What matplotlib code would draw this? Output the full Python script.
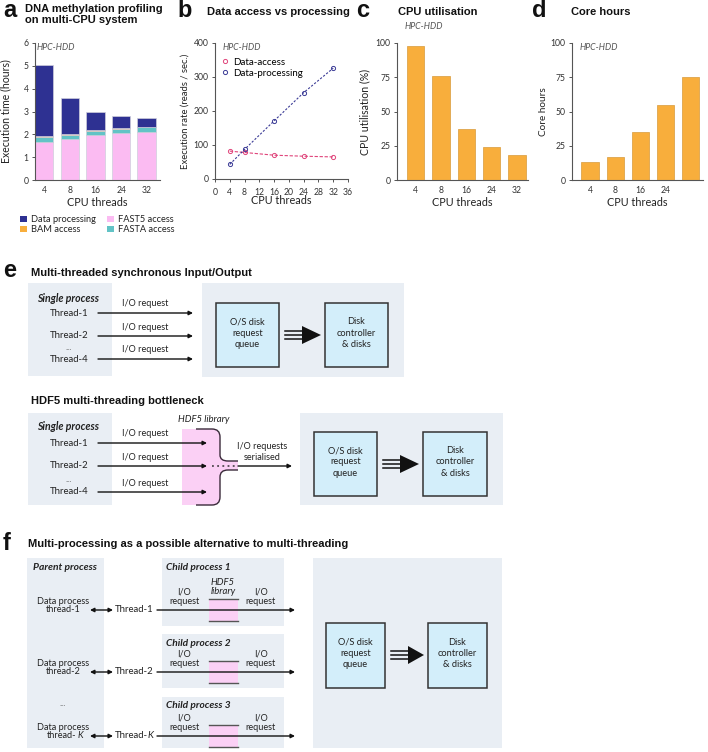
import numpy as np
import matplotlib
matplotlib.use('Agg')
import matplotlib.pyplot as plt
from matplotlib.patches import Rectangle, Polygon, PathPatch
from matplotlib.path import Path

# ---------------- data ----------------
threads = [4, 8, 16, 24, 32]
thread_labels = ['4', '8', '16', '24', '32']
series_names = ['Data processing', 'BAM access', 'FAST5 access', 'FASTA access']
fast5_access = [1.68, 1.78, 1.97, 2.07, 2.12]
fasta_access = [0.20, 0.19, 0.18, 0.17, 0.19]
bam_access = [0.03, 0.03, 0.03, 0.03, 0.03]
data_processing = [3.14, 1.60, 0.82, 0.55, 0.39]

rate_threads = [4, 8, 16, 24, 32]
data_access_rate = [82, 78, 70, 67, 65]
data_processing_rate = [43, 87, 171, 254, 326]

cpu_utilisation = [98, 76, 37, 24, 18]
core_hours = [13, 17, 35, 55, 75]
core_tick_labels = ['4', '8', '16', '24', '']

# ---------------- style ----------------
plt.rcParams['font.family'] = ['Lato', 'DejaVu Sans']
BOLD = ['Liberation Sans', 'DejaVu Sans']
NAVY = '#2e3192'
PINK = '#fbbbf2'
TEAL = '#62c3c6'
ORANGE = '#f8ae3c'
GRAY = '#e9eef4'
LPINK = '#fbd0f5'
BOXC = '#d3eefa'
W, H = 708, 752

fig = plt.figure(figsize=(7.08, 7.52), dpi=100)
ax0 = fig.add_axes([0, 0, 1, 1])
ax0.set_xlim(0, W)
ax0.set_ylim(H, 0)
ax0.axis('off')


def axpos(x0, y0, x1, y1):
    return [x0 / W, 1 - y1 / H, (x1 - x0) / W, (y1 - y0) / H]


def style(ax, xticklen=0):
    for s in ['top', 'right']:
        ax.spines[s].set_visible(False)
    for s in ['left', 'bottom']:
        ax.spines[s].set_color('#555555')
        ax.spines[s].set_linewidth(0.8)
    ax.tick_params(axis='both', length=2.5, width=0.7, colors='#555555',
                   labelsize=6.2, labelcolor='#333333', pad=2)
    ax.tick_params(axis='x', length=xticklen, pad=4)
    ax.set_facecolor('none')


def labels(ax, ylab, ysize, yx, h):
    ax.set_ylabel(ylab, fontsize=ysize, color='#222222')
    ax.yaxis.set_label_coords(yx, 0.5)
    ax.set_xlabel('CPU threads', fontsize=7.8, color='#222222')
    ax.xaxis.set_label_coords(0.5, -22 / h)
    ax.xaxis.label.set_va('center')


def txt(x, y, s, size=6.5, ha='center', va='center', **kw):
    ax0.text(x, y, s, fontsize=size, ha=ha, va=va, color=kw.pop('color', '#222222'), **kw)


def rect(x0, y0, x1, y1, fc, ec='none', lw=0, z=1):
    ax0.add_patch(Rectangle((x0, y0), x1 - x0, y1 - y0, facecolor=fc, edgecolor=ec, lw=lw, zorder=z))


def arrow(x0, x1, y, style='-|>'):
    ax0.annotate('', xy=(x1, y), xytext=(x0, y),
                 arrowprops=dict(arrowstyle=style, lw=1.0, color='#111111',
                                 mutation_scale=6, shrinkA=0, shrinkB=0), zorder=4)


def box(x0, y0, x1, y1, s):
    rect(x0, y0, x1, y1, BOXC, ec='#333333', lw=1.1, z=3)
    txt((x0 + x1) / 2, (y0 + y1) / 2 - 2, s, size=6.7, linespacing=1.35, zorder=5)


def bigarrow(x0, x1, x2, y):
    for dy in (-4, 0, 4):
        ax0.plot([x0, x1 + 2], [y + dy, y + dy], color='#111111', lw=1.1, zorder=4)
    ax0.add_patch(Polygon([(x1, y - 9), (x1, y + 9), (x2, y)], closed=True,
                          facecolor='#111111', edgecolor='none', zorder=4))


# ---------------- panel titles ----------------
for lx, ly, letter in [(3, 17, 'a'), (177, 17, 'b'), (356, 17, 'c'), (532, 17, 'd'),
                       (3, 277, 'e'), (3, 550, 'f')]:
    ax0.text(lx, ly, letter, fontsize=17, fontweight='bold', family=BOLD,
             ha='left', va='baseline', color='#111111')
TITLE_KW = dict(fontsize=8, fontweight='bold', family=BOLD, ha='left', va='center', color='#111111')
ax0.text(25, 9, 'DNA methylation profiling', **TITLE_KW)
ax0.text(25, 20, 'on multi-CPU system', **TITLE_KW)
ax0.text(207, 12, 'Data access vs processing', **TITLE_KW)
ax0.text(398, 12, 'CPU utilisation', **TITLE_KW)
ax0.text(571, 12, 'Core hours', **TITLE_KW)

HPC_KW = dict(fontsize=6.3, style='italic', color='#555555', ha='left', va='center')

# ---------------- panel a ----------------
axa = fig.add_axes(axpos(35, 43, 160, 180))
style(axa)
x = np.arange(len(threads))
bottom = np.zeros(len(threads))
for vals, col in [(fast5_access, PINK), (fasta_access, TEAL), (bam_access, ORANGE), (data_processing, NAVY)]:
    axa.bar(x, vals, 0.72, bottom=bottom, color=col, edgecolor='#cfcfdc', lw=0.5)
    bottom = bottom + np.array(vals)
axa.set_xlim(-0.36, 4.52)
axa.set_ylim(0, 6)
axa.set_yticks(range(0, 7))
axa.set_xticks(x)
axa.set_xticklabels(thread_labels)
labels(axa, 'Execution time (hours)', 7.6, -0.19, 137)
axa.text(0.01, 0.965, 'HPC-HDD', transform=axa.transAxes, **HPC_KW)

# legend for panel a
leg_items = [(20, 219, NAVY, series_names[0]), (20, 229, ORANGE, series_names[1]),
             (107, 219, PINK, series_names[2]), (107, 229, TEAL, series_names[3])]
for lx, ly, col, name in leg_items:
    rect(lx, ly - 3, lx + 7, ly + 3, col)
    txt(lx + 11, ly, name, size=6.7, ha='left')

# ---------------- panel b ----------------
axb = fig.add_axes(axpos(215, 43, 348, 179))
style(axb, xticklen=2.5)
axb.plot(rate_threads, data_access_rate, ls=(0, (3, 1.5)), lw=0.8, color='#e0457b',
         marker='o', ms=3, mfc='none', mew=0.7, label='Data-access')
axb.plot(rate_threads, data_processing_rate, ls=(0, (2, 1.5)), lw=0.8, color='#3b3b96',
         marker='o', ms=3, mfc='none', mew=0.7, label='Data-processing')
axb.set_xlim(0, 36)
axb.set_xticks(range(0, 37, 4))
axb.set_ylim(0, 400)
axb.set_yticks(range(0, 401, 100))
labels(axb, 'Execution rate (reads / sec.)', 6.8, -0.19, 136)
axb.text(0.06, 0.965, 'HPC-HDD', transform=axb.transAxes, **HPC_KW)
lg = axb.legend(loc='upper left', bbox_to_anchor=(0.0, 0.935), frameon=False,
                fontsize=7, handlelength=0.9, handletextpad=0.4, labelspacing=0.2,
                borderaxespad=0.2)
for h in lg.get_lines():
    h.set_linestyle('none')

# ---------------- panel c ----------------
axc = fig.add_axes(axpos(397, 43, 528, 180))
style(axc)
axc.bar(x, cpu_utilisation, 0.69, color=ORANGE, edgecolor='#d89a3a', lw=0.5)
axc.set_xlim(-0.73, 4.43)
axc.set_ylim(0, 100)
axc.set_yticks(range(0, 101, 25))
axc.set_xticks(x)
axc.set_xticklabels(thread_labels)
labels(axc, 'CPU utilisation (%)', 7.6, -0.205, 137)
axc.text(0.06, 1.12, 'HPC-HDD', transform=axc.transAxes, **HPC_KW)

# ---------------- panel d ----------------
axd = fig.add_axes(axpos(572, 43, 703, 180))
style(axd)
axd.bar(x, core_hours, 0.69, color=ORANGE, edgecolor='#d89a3a', lw=0.5)
axd.set_xlim(-0.72, 4.5)
axd.set_ylim(0, 100)
axd.set_yticks(range(0, 101, 25))
axd.set_xticks(x)
axd.set_xticklabels(core_tick_labels)
labels(axd, 'Core hours', 7.2, -0.18, 137)
axd.text(0.06, 0.965, 'HPC-HDD', transform=axd.transAxes, **HPC_KW)

# ---------------- panel e (top) ----------------
ax0.text(31, 273, 'Multi-threaded synchronous Input/Output', **TITLE_KW)
rect(28, 283, 112, 376, GRAY)
rect(202, 283, 404, 377, GRAY)
txt(37, 298, 'Single process', size=7.6, ha='left', fontweight='bold', style='italic')
for yy, lab in zip([313, 336, 359], ['Thread-1', 'Thread-2', 'Thread-4']):
    txt(69, yy, lab, size=6.9)
    arrow(98, 193, yy)
    txt(145, yy - 9, 'I/O request', size=6.6)
txt(69, 348, '...', size=6.5, color='#555555')
box(216, 303, 279, 367, 'O/S disk\nrequest\nqueue')
box(325, 303, 388, 367, 'Disk\ncontroller\n& disks')
bigarrow(285, 302, 321, 335)

# ---------------- panel e (bottom) ----------------
ax0.text(31, 401, 'HDF5 multi-threading bottleneck', **TITLE_KW)
rect(28, 413, 112, 505, GRAY)
rect(300, 413, 503, 505, GRAY)
txt(37, 427, 'Single process', size=7.6, ha='left', fontweight='bold', style='italic')

# HDF5 library pink block with curly brace
verts = [(182, 429), (212, 429), (220, 429), (220, 437), (220, 455), (220, 461), (228, 461),
         (238, 461), (238, 470), (228, 470), (220, 470), (220, 477), (220, 497), (220, 505),
         (212, 505), (182, 505), (182, 429)]
codes = [Path.MOVETO, Path.LINETO, Path.CURVE3, Path.CURVE3, Path.LINETO, Path.CURVE3, Path.CURVE3,
         Path.LINETO, Path.LINETO, Path.LINETO, Path.CURVE3, Path.CURVE3, Path.LINETO, Path.CURVE3,
         Path.CURVE3, Path.LINETO, Path.CLOSEPOLY]
ax0.add_patch(PathPatch(Path(verts, codes), facecolor=LPINK, edgecolor='none', zorder=2))
brace_top = Path([(196, 429), (212, 429), (220, 429), (220, 437), (220, 455), (220, 461), (228, 461), (238, 461)],
                 [Path.MOVETO, Path.LINETO, Path.CURVE3, Path.CURVE3, Path.LINETO, Path.CURVE3, Path.CURVE3, Path.LINETO])
brace_bot = Path([(238, 470), (228, 470), (220, 470), (220, 477), (220, 497), (220, 505), (212, 505), (196, 505)],
                 [Path.MOVETO, Path.LINETO, Path.CURVE3, Path.CURVE3, Path.LINETO, Path.CURVE3, Path.CURVE3, Path.LINETO])
for p in (brace_top, brace_bot):
    ax0.add_patch(PathPatch(p, facecolor='none', edgecolor='#3a2a3a', lw=1.0, zorder=3))
txt(204, 420, 'HDF5 library', size=6.8, style='italic')

for yy, lab in zip([443, 466, 492], ['Thread-1', 'Thread-2', 'Thread-4']):
    txt(69, yy, lab, size=6.9)
    arrow(98, 207, yy)
for yy in [433, 457, 483]:
    txt(145, yy, 'I/O request', size=6.6)
txt(69, 479, '...', size=6.5, color='#555555')
ax0.plot([212, 236], [466, 466], ls=(0, (1.2, 2.2)), color='#333333', lw=1.1, zorder=4)
arrow(238, 292, 466)
txt(262, 452, 'I/O requests\nserialised', size=6.6, linespacing=1.3)
box(314, 432, 377, 496, 'O/S disk\nrequest\nqueue')
box(423, 432, 487, 496, 'Disk\ncontroller\n& disks')
bigarrow(383, 400, 419, 464)

# ---------------- panel f ----------------
ax0.text(28, 544, 'Multi-processing as a possible alternative to multi-threading', **TITLE_KW)
rect(27, 558, 104, 748, GRAY)
child_boxes = [(558, 626), (634, 688), (697, 748)]
for i, (y0, y1) in enumerate(child_boxes):
    rect(162, y0, 284, y1, GRAY)
rect(313, 558, 502, 748, GRAY)
txt(33, 567, 'Parent process', size=7.4, ha='left', fontweight='bold', style='italic')
for lab, yy in zip(['Child process 1', 'Child process 2', 'Child process 3'], [567, 643, 706]):
    txt(166, yy, lab, size=7.3, ha='left', fontweight='bold', style='italic')

rows = [610, 672, 736]
pinks = [(599, 621), (661, 683), (725, 747)]
for k, (yy, (p0, p1)) in enumerate(zip(rows, pinks)):
    rect(209, p0, 238, p1, LPINK, z=2)
    ax0.plot([209, 238], [p0, p0], color='#555555', lw=1.0, zorder=3)
    ax0.plot([209, 238], [p1, p1], color='#555555', lw=1.0, zorder=3)
    txt(184, yy - 13, 'I/O\nrequest', size=6.6, linespacing=1.1)
    txt(261, yy - 13, 'I/O\nrequest', size=6.6, linespacing=1.1)
    arrow(157, 295, yy)
    arrow(90, 113, yy, style='<|-|>')
    txt(63, yy - 8.5, 'Data process', size=6.6)
    if k < 2:
        txt(63, yy, 'thread-%d' % (k + 1), size=6.6)
        txt(115, yy, 'Thread-%d' % (k + 1), size=6.9, ha='left')
    else:
        txt(76, yy, 'thread-', size=6.6, ha='right')
        txt(78, yy, 'K', size=6.6, ha='left', style='italic')
        txt(115, yy, 'Thread-', size=6.9, ha='left')
        txt(148, yy, 'K', size=6.9, ha='left', style='italic')
txt(223, 587, 'HDF5\nlibrary', size=6.8, style='italic', linespacing=1.0)
txt(63, 703, '...', size=6.5, color='#555555')
box(326, 623, 385, 688, 'O/S disk\nrequest\nqueue')
box(428, 623, 487, 688, 'Disk\ncontroller\n& disks')
bigarrow(391, 408, 424, 655)

fig.savefig('out.png', dpi=100)
